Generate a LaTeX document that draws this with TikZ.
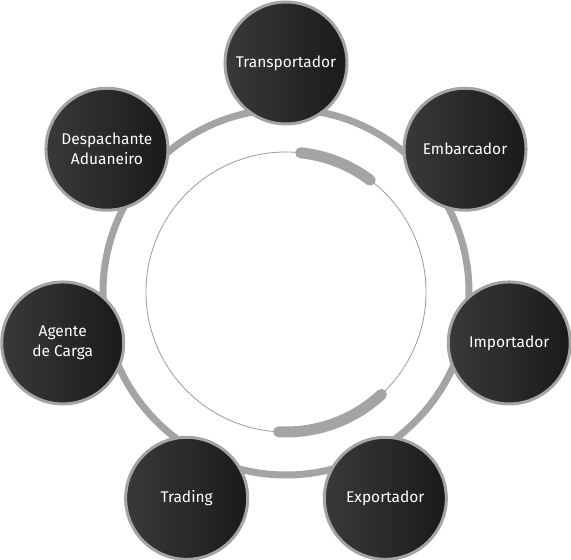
\documentclass[tikz,border=0pt]{standalone}
\usepackage{fontspec}
\setmainfont{Fira Sans}
\usepackage{tikz}
\tikzset{>=latex}
\usepackage{xcolor}
\definecolor{mygray}{HTML}{A4A4A4}
\definecolor{mythin}{HTML}{9A9A9A}
\definecolor{mydarkL}{HTML}{3A3838}
\definecolor{mydarkR}{HTML}{1B1A1A}

\begin{document}
\begin{tikzpicture}[x=1pt, y=1pt,
                    line cap=round, line join=round,
                    ring/.style={mygray, line width=7pt},
                    inner/.style={mythin, line width=0.8pt},
                    marker/.style={mygray, line width=11pt},
                    actor/.style={circle, draw=mygray, line width=3pt,
                                  minimum size=122pt, inner sep=0pt,
                                  left color=mydarkL, right color=mydarkR,
                                  text=white, align=center,
                                  font=\fontsize{15.5}{20}\selectfont}]
  \useasboundingbox (-286,-268) rectangle (285,292);
  \def\Rring{183}
  \def\Rin{140}
  \def\Rnode{229}

  % MAIN RINGS
  \draw[ring]  (0,0) circle (\Rring);
  \draw[inner] (0,0) circle (\Rin);

  % ARC MARKERS
  \draw[marker] (84:\Rin) arc (84:53:\Rin);
  \draw[marker] (-47:\Rin) arc (-47:-93:\Rin);

  % ACTORS
  \foreach \name/\ang/\txt in {trans/90/Transportador,
                               emb/38.57/Embarcador,
                               imp/-12.86/Importador,
                               exp/-64.29/Exportador,
                               trad/-115.71/Trading,
                               agen/-167.14/{Agente\\de Carga},
                               desp/141.43/{Despachante\\Aduaneiro}}{
    \node[actor] (\name) at (\ang:\Rnode) {\txt};
  }

\end{tikzpicture}
\end{document}
